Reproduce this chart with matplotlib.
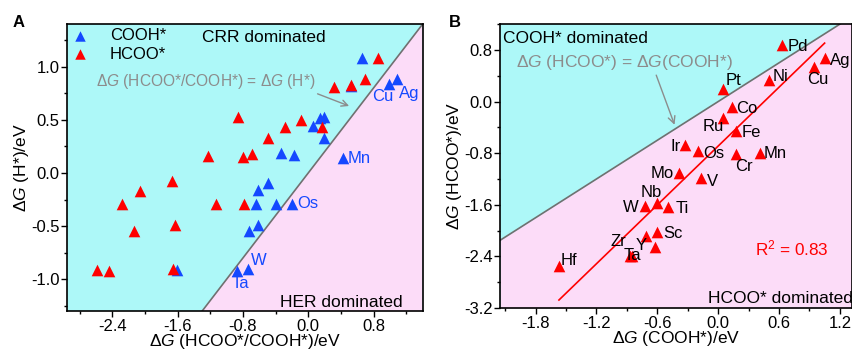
import numpy as np
import matplotlib
matplotlib.use("Agg")
import matplotlib.pyplot as plt
from matplotlib.ticker import MultipleLocator

plt.rcParams["font.family"] = ["Liberation Sans", "DejaVu Sans"]
plt.rcParams["mathtext.fontset"] = "custom"
plt.rcParams["mathtext.rm"] = "Liberation Sans"
plt.rcParams["mathtext.it"] = "Liberation Sans:italic"
plt.rcParams["axes.unicode_minus"] = False

# panel A: dG(HCOO*/COOH*) vs dG(H*)
cooh_x = [0.66, 0.99, 1.09, 0.52, 0.19, 0.15, 0.06, 0.19, -0.33, -0.17, 0.43,
          -0.49, -0.61, -0.64, -0.40, -0.20, -0.61, -0.73, -1.61, -0.74, -0.87]
cooh_y = [1.08, 0.84, 0.88, 0.82, 0.53, 0.52, 0.44, 0.33, 0.19, 0.17, 0.14,
          -0.09, -0.16, -0.29, -0.29, -0.29, -0.49, -0.55, -0.91, -0.90, -0.92]
cooh_names = ["", "Cu", "Ag", "", "", "", "", "", "", "", "Mn",
              "", "", "", "", "Os", "", "", "", "W", "Ta"]
hcoo_x = [0.86, 0.69, 0.52, 0.31, -0.86, -0.09, -0.29, 0.17, -0.49, -1.23, -0.80,
          -0.69, -1.67, -2.06, -2.28, -2.13, -1.63, -1.13, -0.79, -2.59, -2.44, -1.66]
hcoo_y = [1.08, 0.88, 0.83, 0.81, 0.53, 0.50, 0.43, 0.43, 0.33, 0.16, 0.15,
          0.18, -0.08, -0.17, -0.29, -0.55, -0.49, -0.29, -0.29, -0.91, -0.92, -0.90]

# panel B: dG(COOH*) vs dG(HCOO*)
elements = ["Pd", "Ag", "Cu", "Ni", "Pt", "Co", "Ru", "Fe", "Ir", "Os", "Cr", "Mn",
            "Mo", "V", "W", "Nb", "Ti", "Sc", "", "Y", "Zr", "Ta", "Hf"]
g_cooh = [0.63, 1.05, 0.95, 0.50, 0.05, 0.14, 0.05, 0.18, -0.33, -0.20, 0.18, 0.41,
          -0.39, -0.17, -0.72, -0.60, -0.49, -0.60, -0.71, -0.62, -0.87, -0.85, -1.57]
g_hcoo = [0.87, 0.68, 0.53, 0.33, 0.20, -0.08, -0.25, -0.46, -0.67, -0.76, -0.82, -0.79,
          -1.10, -1.19, -1.62, -1.58, -1.64, -2.02, -2.08, -2.26, -2.40, -2.40, -2.55]
fit_slope, fit_intercept = 1.52, -0.69
fit_range = [-1.57, 1.05]
r_squared = 0.83

cyan = "#adf8f8"
pink = "#fcdcf8"
blue = "#1448ff"
red = "#ff0000"
gray = "#8c8c8c"

fig = plt.figure(figsize=(8.52, 3.5), dpi=100)
axA = fig.add_axes([0.079, 0.111, 0.417, 0.820])
axB = fig.add_axes([0.587, 0.12, 0.413, 0.811])

def style(ax):
    for s in ax.spines.values():
        s.set_linewidth(1.2)
    ax.tick_params(which="both", direction="out", labelsize=12, width=1.0, pad=1.5)
    ax.tick_params(which="major", length=4)
    ax.tick_params(which="minor", length=2.5)

# ---- panel A ----
xa = (-2.95, 1.4)
ya = (-1.3, 1.4)
axA.set_facecolor(cyan)
d = np.array([xa[0], xa[1]])
axA.fill_between(d, ya[0], d, color=pink, lw=0)
axA.plot(d, d, color="#707070", lw=1.2)
axA.scatter(cooh_x, cooh_y, marker="^", s=70, color=blue, lw=0, label="COOH*", zorder=3)
axA.scatter(hcoo_x, hcoo_y, marker="^", s=70, color=red, lw=0, label="HCOO*", zorder=3)
offA = {"Cu": (-12, -9), "Ag": (1, -10), "Mn": (3, 0), "Os": (4, 0), "W": (2, 6), "Ta": (-4, -9)}
for n, x, y in zip(cooh_names, cooh_x, cooh_y):
    if n:
        axA.annotate(n, (x, y), xytext=offA[n], textcoords="offset points",
                     ha="left", va="center", color=blue, fontsize=12)
axA.set_xlim(*xa)
axA.set_ylim(*ya)
axA.xaxis.set_major_locator(MultipleLocator(0.8))
axA.xaxis.set_minor_locator(MultipleLocator(0.4))
axA.yaxis.set_major_locator(MultipleLocator(0.5))
axA.yaxis.set_minor_locator(MultipleLocator(0.25))
axA.set_xlabel(r"$\Delta G$ (HCOO*/COOH*)/eV", fontsize=12.5, labelpad=-1)
axA.set_ylabel(r"$\Delta G$ (H*)/eV", fontsize=12.5, labelpad=0)
axA.legend(loc="upper left", frameon=False, fontsize=12, handletextpad=1.3,
           borderaxespad=0.0, borderpad=0.25, labelspacing=0.2, handlelength=1.0,
           markerscale=0.9)
axA.text(-0.55, 1.27, "CRR dominated", fontsize=12.5, ha="center", va="center")
axA.text(0.4, -1.22, "HER dominated", fontsize=12.5, ha="center", va="center")
axA.annotate(r"$\Delta G$ (HCOO*/COOH*) = $\Delta G$ (H*)", xy=(0.5, 0.63),
             xytext=(-1.25, 0.86), fontsize=11.2, color=gray, ha="center", va="center",
             arrowprops=dict(arrowstyle="->", color=gray, lw=1.0, shrinkA=0, shrinkB=0,
                             relpos=(0.93, 0.2)))
style(axA)
fig.text(0.022, 0.935, "A", fontsize=12, fontweight="bold", ha="center", va="center")

# ---- panel B ----
xb = (-2.15, 1.32)
yb = (-3.2, 1.2)
axB.set_facecolor(cyan)
d = np.array([xb[0], xb[1]])
axB.fill_between(d, yb[0], d, color=pink, lw=0)
axB.plot(d, d, color="#707070", lw=1.2)
fx = np.array(fit_range)
axB.plot(fx, fit_slope * fx + fit_intercept, color=red, lw=1.2)
axB.scatter(g_cooh, g_hcoo, marker="^", s=70, color=red, lw=0, zorder=3)
offB = {"Pd": (4, -1), "Ag": (4, -2), "Cu": (-5, -9), "Ni": (3, 3), "Pt": (2, 6),
        "Co": (3, -1), "Ru": (-15, -6), "Fe": (4, -1), "Ir": (-10, -1), "Os": (4, -2),
        "Cr": (-1, -9), "Mn": (3, -1), "Mo": (-20, -1), "V": (4, -2), "W": (-16, -1),
        "Nb": (-12, 8), "Ti": (5, -1), "Sc": (4, -1), "Y": (-14, 1), "Zr": (-14, 11),
        "Ta": (-6, 1), "Hf": (1, 4)}
for n, x, y in zip(elements, g_cooh, g_hcoo):
    if n:
        axB.annotate(n, (x, y), xytext=offB[n], textcoords="offset points",
                     ha="left", va="center", color="black", fontsize=12, zorder=4)
axB.set_xlim(*xb)
axB.set_ylim(*yb)
axB.xaxis.set_major_locator(MultipleLocator(0.6))
axB.xaxis.set_minor_locator(MultipleLocator(0.3))
axB.yaxis.set_major_locator(MultipleLocator(0.8))
axB.yaxis.set_minor_locator(MultipleLocator(0.4))
axB.set_xlabel(r"$\Delta G$ (COOH*)/eV", fontsize=12.5, labelpad=-1)
axB.set_ylabel(r"$\Delta G$ (HCOO*)/eV", fontsize=12.5, labelpad=0)
axB.text(-2.12, 0.98, "COOH* dominated", fontsize=12.5, ha="left", va="center")
axB.text(1.33, -3.05, "HCOO* dominated", fontsize=12.5, ha="right", va="center")
axB.text(0.73, -2.27, "R$^2$ = %.2f" % r_squared, fontsize=12.3, color=red,
         ha="center", va="center")
axB.annotate(r"$\Delta G$ (HCOO*) = $\Delta G$(COOH*)", xy=(-0.43, -0.36),
             xytext=(-0.92, 0.6), fontsize=12.5, color=gray, ha="center", va="center",
             arrowprops=dict(arrowstyle="->", color=gray, lw=1.0, shrinkA=0, shrinkB=0,
                             relpos=(0.64, 0.0)))
style(axB)
fig.text(0.534, 0.935, "B", fontsize=12, fontweight="bold", ha="center", va="center")

fig.savefig("out.png", dpi=100)
